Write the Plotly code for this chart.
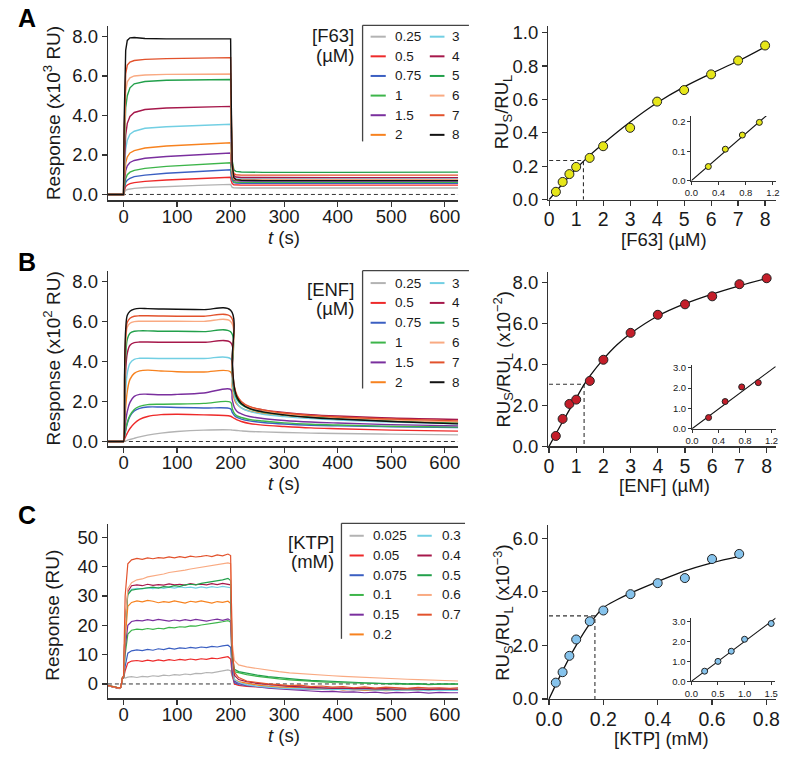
import plotly.graph_objects as go

W, H = 787, 763
FONT = "Liberation Sans, Arial, sans-serif"

# ---------------- Data: sensorgrams ----------------
COLORS = ["#b3b3b3", "#ee2a2a", "#3b5fc2", "#3db54a", "#7a2f9e", "#f7821f",
          "#72cfe3", "#a6184b", "#22a04b", "#f9aa82", "#e2522c", "#111111"]

A_labels = ["0.25", "0.5", "0.75", "1", "1.5", "2", "3", "4", "5", "6", "7", "8"]
T_A = [-30, -1, 0, 1, 2, 4, 7, 12, 20, 40, 80, 140, 200, 201, 203, 206, 210, 220, 260, 400, 625]
A_025 = [0, 0, 0, 0.08, 0.15, 0.21, 0.25, 0.28, 0.31, 0.35, 0.40, 0.46, 0.51, 0.42, 0.36, 0.34, 0.33, 0.33, 0.33, 0.33, 0.33]
A_05 = [0, 0, 0, 0.15, 0.28, 0.40, 0.48, 0.55, 0.60, 0.66, 0.73, 0.80, 0.87, 0.70, 0.55, 0.49, 0.48, 0.47, 0.47, 0.47, 0.47]
A_075 = [0, 0, 0, 0.22, 0.42, 0.60, 0.72, 0.82, 0.90, 0.98, 1.07, 1.17, 1.25, 0.95, 0.72, 0.60, 0.58, 0.57, 0.57, 0.57, 0.57]
A_1 = [0, 0, 0, 0.30, 0.55, 0.80, 1.00, 1.13, 1.22, 1.32, 1.42, 1.52, 1.60, 1.20, 0.80, 0.64, 0.62, 0.61, 0.61, 0.61, 0.61]
A_15 = [0, 0, 0, 0.45, 0.85, 1.20, 1.45, 1.62, 1.72, 1.83, 1.92, 2.02, 2.10, 1.50, 0.90, 0.72, 0.69, 0.68, 0.68, 0.68, 0.68]
A_2 = [0, 0, 0, 0.60, 1.10, 1.60, 1.90, 2.10, 2.22, 2.35, 2.45, 2.55, 2.62, 1.80, 1.00, 0.78, 0.74, 0.72, 0.72, 0.72, 0.72]
A_3 = [0, 0, 0, 0.90, 1.60, 2.30, 2.75, 3.05, 3.20, 3.35, 3.43, 3.50, 3.55, 2.40, 1.20, 0.85, 0.80, 0.78, 0.78, 0.78, 0.78]
A_4 = [0, 0, 0, 1.20, 2.20, 3.00, 3.60, 3.95, 4.15, 4.30, 4.38, 4.42, 4.46, 3.00, 1.40, 0.95, 0.88, 0.86, 0.85, 0.85, 0.85]
A_5 = [0, 0, 0, 1.80, 3.20, 4.40, 5.00, 5.40, 5.60, 5.72, 5.78, 5.80, 5.82, 3.80, 1.70, 1.25, 1.17, 1.14, 1.12, 1.12, 1.13]
A_6 = [0, 0, 0, 2.20, 3.90, 5.20, 5.70, 5.90, 6.00, 6.05, 6.08, 6.09, 6.10, 4.00, 1.30, 0.80, 0.76, 0.75, 0.75, 0.75, 0.75]
A_7 = [0, 0, 0, 2.80, 4.80, 6.10, 6.55, 6.70, 6.78, 6.84, 6.88, 6.91, 6.93, 4.50, 1.60, 1.05, 1.00, 0.98, 0.98, 0.98, 0.98]
A_8 = [0, 0, 0, 3.50, 5.80, 7.30, 7.80, 7.93, 7.95, 7.90, 7.88, 7.88, 7.88, 5.00, 1.50, 0.85, 0.75, 0.72, 0.70, 0.70, 0.70]

B_labels = A_labels
T_B = [-30, -1, 0, 2, 4, 7, 12, 20, 30, 45, 70, 100, 150, 200, 203, 207, 212, 220, 235, 260, 300, 350, 400, 500, 625]
B_025 = [0, 0, 0, 0.01, 0.03, 0.06, 0.10, 0.16, 0.23, 0.32, 0.42, 0.50, 0.57, 0.58, 0.57, 0.56, 0.55, 0.53, 0.50, 0.48, 0.45, 0.42, 0.40, 0.37, 0.33]
B_05 = [0, 0, 0, 0.12, 0.25, 0.42, 0.65, 0.90, 1.10, 1.25, 1.34, 1.36, 1.33, 1.26, 1.22, 1.15, 1.08, 1.00, 0.90, 0.82, 0.75, 0.68, 0.64, 0.57, 0.52]
B_075 = [0, 0, 0, 0.28, 0.55, 0.90, 1.25, 1.52, 1.65, 1.72, 1.72, 1.70, 1.67, 1.63, 1.45, 1.30, 1.20, 1.12, 1.03, 0.95, 0.87, 0.81, 0.78, 0.74, 0.70]
B_1 = [0, 0, 0, 0.30, 0.60, 0.95, 1.30, 1.60, 1.75, 1.84, 1.86, 1.87, 1.90, 1.96, 1.65, 1.40, 1.28, 1.20, 1.10, 1.02, 0.93, 0.86, 0.82, 0.76, 0.72]
B_15 = [0, 0, 0, 0.50, 1.00, 1.50, 1.95, 2.25, 2.35, 2.36, 2.33, 2.35, 2.42, 2.60, 2.10, 1.70, 1.50, 1.38, 1.25, 1.15, 1.05, 0.97, 0.92, 0.84, 0.78]
B_2 = [0, 0, 0, 0.90, 1.70, 2.50, 3.10, 3.40, 3.52, 3.56, 3.52, 3.48, 3.47, 3.47, 2.70, 2.10, 1.85, 1.68, 1.52, 1.40, 1.28, 1.18, 1.10, 1.00, 0.94]
B_3 = [0, 0, 0, 1.40, 2.50, 3.40, 3.90, 4.10, 4.15, 4.15, 4.14, 4.14, 4.14, 4.13, 3.00, 2.25, 1.90, 1.68, 1.50, 1.36, 1.24, 1.14, 1.07, 0.97, 0.88]
B_4 = [0, 0, 0, 2.00, 3.50, 4.40, 4.80, 4.93, 4.96, 4.96, 4.95, 4.95, 4.95, 4.94, 3.40, 2.50, 2.15, 1.92, 1.72, 1.58, 1.45, 1.34, 1.27, 1.17, 1.10]
B_5 = [0, 0, 0, 2.50, 4.20, 5.10, 5.40, 5.50, 5.52, 5.52, 5.50, 5.50, 5.48, 5.47, 3.50, 2.50, 2.10, 1.85, 1.63, 1.47, 1.33, 1.22, 1.14, 1.02, 0.92]
B_6 = [0, 0, 0, 3.00, 4.90, 5.70, 5.90, 5.98, 6.00, 6.00, 6.00, 6.00, 5.99, 5.99, 3.80, 2.70, 2.25, 1.95, 1.72, 1.55, 1.40, 1.28, 1.20, 1.08, 0.98]
B_7 = [0, 0, 0, 3.20, 5.20, 5.95, 6.15, 6.25, 6.27, 6.27, 6.26, 6.25, 6.25, 6.24, 3.90, 2.75, 2.30, 2.00, 1.75, 1.58, 1.42, 1.30, 1.22, 1.12, 1.03]
B_8 = [0, 0, 0, 3.50, 5.60, 6.30, 6.50, 6.60, 6.64, 6.63, 6.61, 6.60, 6.58, 6.55, 4.00, 2.70, 2.20, 1.90, 1.65, 1.48, 1.33, 1.20, 1.12, 1.00, 0.88]

C_labels = ["0.025", "0.05", "0.075", "0.1", "0.15", "0.2", "0.3", "0.4", "0.5", "0.6", "0.7"]
C_COLORS = ["#b3b3b3", "#ee2a2a", "#3b5fc2", "#3db54a", "#7a2f9e", "#f7821f",
            "#72cfe3", "#a6184b", "#22a04b", "#f9aa82", "#e2522c"]
T_C = [-30, -15, -8, -5, -2, 0,
       3, 8, 15, 25, 35, 45, 55, 65, 75, 85, 95, 105, 115, 125, 135, 145, 155, 165, 175, 185, 195, 200,
       203, 207, 215, 230, 250, 270, 290, 310, 330, 350, 370, 390, 410, 430, 450, 470, 490, 510, 530, 550, 570, 590, 610, 625]
C_0025 = [-0.5, -1.0, -1.4, -1.0, 2.2, 2.3,
          2.0, 2.3, 2.5, 2.2, 2.6, 2.4, 2.8, 2.6, 3.0, 2.8, 3.2, 3.0, 3.4, 3.2, 3.6, 3.5, 3.9, 3.8, 4.2, 4.4, 4.8, 4.5,
          2.5, 0.8, 0.3, 0.0, -0.3, -0.5, -0.7, -0.9, -1.0, -1.1, -1.2, -1.3, -1.2, -1.4, -1.3, -1.5, -1.4, -1.5, -1.6, -1.4, -1.5, -1.5, -1.6, -1.5]
C_005 = [-0.6, -1.1, -1.5, -1.2, 1.8, 2.0,
         4.5, 7.2, 7.8, 8.0, 7.7, 8.1, 7.8, 8.2, 7.9, 8.3, 8.0, 8.4, 8.1, 8.5, 8.2, 8.6, 8.4, 8.8, 8.6, 9.0, 9.3, 8.5,
         3.0, 0.0, -0.5, -0.8, -1.0, -1.3, -1.4, -1.6, -1.5, -1.8, -1.7, -1.9, -1.8, -2.0, -1.9, -2.1, -2.0, -2.2, -2.0, -2.1, -2.2, -2.0, -2.1, -2.1]
C_0075 = [-0.5, -1.2, -1.4, -1.1, 1.9, 2.2,
          6.0, 10.5, 11.3, 11.6, 11.4, 11.8, 11.5, 12.0, 11.7, 12.2, 11.9, 12.3, 12.1, 12.5, 12.2, 12.6, 12.4, 12.8, 12.6, 13.0, 13.2, 12.5,
          4.0, 0.5, -0.2, -0.6, -0.9, -1.2, -1.4, -1.5, -1.7, -1.6, -1.8, -1.7, -1.9, -1.8, -2.0, -1.9, -2.1, -1.9, -2.0, -2.1, -1.9, -2.0, -2.0, -2.0]
C_01 = [-0.6, -1.1, -1.5, -1.2, 2.0, 2.4,
        10.0, 17.0, 18.3, 18.7, 18.5, 18.9, 18.6, 19.0, 18.8, 19.3, 19.1, 19.5, 19.4, 19.8, 19.7, 20.1, 20.3, 20.5, 20.9, 21.2, 21.6, 21.0,
        8.0, 4.2, 3.8, 3.2, 2.6, 2.1, 1.7, 1.4, 1.1, 0.9, 0.7, 0.5, 0.4, 0.3, 0.2, 0.1, 0.0, 0.1, -0.1, 0.0, -0.2, -0.1, -0.2, -0.1]
C_015 = [-0.5, -1.2, -1.6, -1.1, 2.1, 2.5,
         12.0, 20.0, 21.3, 21.7, 21.5, 21.9, 21.6, 22.0, 21.7, 21.4, 21.8, 21.5, 21.9, 21.6, 22.0, 21.7, 21.4, 21.8, 22.1, 21.7, 22.2, 21.6,
         6.0, 1.0, 0.3, -0.5, -1.0, -1.4, -1.7, -2.0, -2.2, -2.4, -2.6, -2.5, -2.8, -2.7, -3.0, -2.8, -3.1, -2.9, -3.0, -2.8, -3.1, -2.9, -3.0, -3.0]
C_02 = [-0.6, -1.0, -1.5, -1.2, 2.0, 2.3,
        15.0, 26.5, 27.8, 28.3, 28.0, 28.5, 28.2, 27.7, 28.1, 27.8, 28.3, 28.0, 27.6, 28.2, 27.9, 28.3, 28.0, 27.6, 28.1, 27.8, 28.2, 27.5,
        8.0, 1.5, 0.8, 0.2, -0.4, -0.8, -1.0, -1.3, -1.2, -1.6, -1.8, -1.6, -2.0, -1.8, -2.2, -2.0, -2.3, -2.1, -2.0, -2.2, -1.9, -2.1, -2.0, -2.1]
C_03 = [-0.5, -1.1, -1.4, -1.0, 2.0, 2.5,
        20.0, 31.0, 32.3, 32.6, 32.4, 32.8, 32.5, 32.9, 32.6, 33.0, 32.7, 33.1, 32.8, 33.0, 32.7, 33.1, 32.8, 33.2, 32.9, 33.3, 33.1, 32.8,
        9.0, 1.5, 0.5, -0.3, -0.8, -1.2, -1.4, -1.6, -1.5, -1.8, -1.7, -1.9, -1.8, -2.0, -1.9, -2.1, -2.0, -2.2, -2.0, -2.1, -2.3, -2.1, -2.2, -2.2]
C_04 = [-0.6, -1.2, -1.5, -1.1, 2.1, 2.4,
        20.0, 31.5, 33.5, 33.8, 33.5, 34.0, 33.6, 33.9, 33.7, 34.1, 33.8, 34.0, 33.7, 34.2, 33.9, 34.0, 33.8, 34.2, 33.9, 34.3, 34.0, 33.8,
        10.0, 3.0, 1.5, 0.8, 0.2, -0.2, -0.5, -0.8, -1.0, -1.2, -1.3, -1.5, -1.4, -1.6, -1.5, -1.7, -1.6, -1.8, -1.6, -1.7, -1.9, -1.7, -1.8, -1.8]
C_05 = [-0.5, -1.0, -1.4, -1.0, 2.0, 2.4,
        20.0, 30.5, 32.0, 32.3, 32.5, 32.8, 33.0, 32.7, 33.2, 33.0, 33.5, 33.3, 33.8, 34.0, 33.8, 34.3, 34.6, 34.8, 35.2, 35.5, 36.0, 35.3,
        10.0, 5.0, 4.2, 3.6, 3.0, 2.5, 2.1, 1.8, 1.5, 1.2, 1.0, 0.8, 0.6, 0.5, 0.4, 0.3, 0.1, 0.2, 0.0, 0.1, -0.1, 0.0, -0.1, 0.0]
C_06 = [-0.6, -1.1, -1.5, -1.2, 2.2, 2.6,
        20.0, 32.5, 34.5, 35.5, 35.8, 36.5, 36.8, 37.3, 37.5, 38.0, 38.2, 38.6, 38.8, 39.2, 39.5, 39.7, 40.1, 40.3, 40.7, 41.0, 41.3, 41.0,
        14.0, 8.0, 6.5, 5.8, 5.2, 4.6, 4.2, 3.8, 3.5, 3.2, 3.0, 2.8, 2.6, 2.4, 2.2, 2.0, 1.9, 1.8, 1.6, 1.5, 1.3, 1.2, 1.1, 1.0]
C_07 = [-0.5, -1.2, -1.4, -1.0, 2.3, 2.7,
        30.0, 41.0, 42.3, 42.8, 42.5, 43.0, 42.7, 43.1, 42.9, 43.3, 43.0, 43.4, 43.1, 43.6, 43.3, 43.5, 43.8, 43.4, 44.0, 43.7, 44.3, 43.8,
        12.0, 4.0, 2.2, 1.0, 0.4, 0.0, -0.2, -0.6, -0.4, -0.9, -0.7, -1.1, -0.9, -1.3, -1.0, -1.4, -1.1, -1.3, -1.5, -1.2, -1.4, -1.3, -1.5, -1.3]

# ---------------- Data: binding isotherms ----------------
F63_x = [0.25, 0.5, 0.75, 1, 1.5, 2, 3, 4, 5, 6, 7, 8]
F63_y = [0.047, 0.106, 0.153, 0.196, 0.25, 0.32, 0.43, 0.587, 0.656, 0.75, 0.833, 0.923]
F63_fit_x = [0, 0.5, 1, 1.5, 2, 3, 4, 5, 6, 7, 8]
F63_fit_y = [0, 0.095, 0.185, 0.265, 0.335, 0.465, 0.58, 0.675, 0.755, 0.83, 0.915]
F63_kd = [1.27, 0.234]
F63_in_x = [0.25, 0.5, 0.75, 1.0]
F63_in_y = [0.048, 0.107, 0.155, 0.198]
F63_in_fit_x = [0, 1.11]
F63_in_fit_y = [0, 0.222]

ENF_x = [0.25, 0.5, 0.75, 1, 1.5, 2, 3, 4, 5, 6, 7, 8]
ENF_y = [0.51, 1.34, 2.07, 2.28, 3.19, 4.22, 5.53, 6.41, 6.92, 7.31, 7.90, 8.19]
ENF_fit_x = [0, 0.5, 1, 1.3, 1.5, 2, 2.5, 3, 4, 5, 6, 7, 8]
ENF_fit_y = [0, 1.2, 2.35, 3.03, 3.42, 4.25, 4.95, 5.5, 6.35, 6.95, 7.42, 7.82, 8.18]
ENF_kd = [1.29, 3.03]
ENF_in_x = [0.25, 0.5, 0.75, 1.0]
ENF_in_y = [0.55, 1.34, 2.06, 2.27]
ENF_in_fit_x = [0, 1.26]
ENF_in_fit_y = [0, 3.06]

KTP_x = [0.025, 0.05, 0.075, 0.1, 0.15, 0.2, 0.3, 0.4, 0.5, 0.6, 0.7]
KTP_y = [0.61, 1.0, 1.61, 2.22, 2.90, 3.30, 3.91, 4.32, 4.51, 5.22, 5.41]
KTP_fit_x = [0, 0.05, 0.1, 0.15, 0.2, 0.25, 0.3, 0.4, 0.5, 0.6, 0.7]
KTP_fit_y = [0, 1.05, 2.0, 2.8, 3.4, 3.7, 3.95, 4.38, 4.78, 5.08, 5.32]
KTP_kd = [0.169, 3.10]
KTP_in_x = [0.25, 0.5, 0.75, 1.0, 1.5]
KTP_in_y = [0.51, 1.0, 1.51, 2.11, 2.9]
KTP_in_fit_x = [0, 1.6]
KTP_in_fit_y = [0, 3.2]

# ---------------- helpers ----------------
def px(x):
    return x / W

def py(y):
    return 1 - y / H

AX = "#333333"
TXT = "#1a1a1a"

def axis(dom, rng, tv, tt, size=18.5, tlen=5, anchor=None, lw=1.2, standoff=0):
    d = dict(domain=dom, range=rng, tickvals=tv, ticktext=tt, showline=True, linecolor=AX,
             linewidth=lw, ticks="outside", ticklen=tlen, tickwidth=lw, tickcolor=AX,
             tickfont=dict(family=FONT, size=size, color=TXT), showgrid=False, zeroline=False,
             fixedrange=True, ticklabeloverflow="allow", ticklabelstandoff=standoff)
    if anchor:
        d["anchor"] = anchor
    return d

fig = go.Figure()

LX = [px(97), px(455)]
RX = [px(547), px(780)]
tx_vals = [0, 100, 200, 300, 400, 500, 600]
tx_text = [str(v) for v in tx_vals]
XS_L = -6   # pull x tick labels toward the axis
XS_R = -3
IN = dict(size=9.5, tlen=3, lw=1)

layout = dict(
    width=W, height=H, margin=dict(l=0, r=0, t=0, b=0), paper_bgcolor="white", plot_bgcolor="rgba(0,0,0,0)",
    showlegend=False, font=dict(family=FONT, color=TXT),
    xaxis=axis(LX, [-29.2, 625], tx_vals, tx_text, anchor="y", standoff=XS_L),
    yaxis=axis([py(200), py(22)], [-0.298, 8.55], [0, 2, 4, 6, 8], ["0.0", "2.0", "4.0", "6.0", "8.0"], anchor="x"),
    xaxis2=axis(RX, [-0.036, 8.41], list(range(9)), [str(v) for v in range(9)], size=19.5, anchor="y2", standoff=XS_R),
    yaxis2=axis([py(199.3), py(22.7)], [0, 1.038], [0, 0.2, 0.4, 0.6, 0.8, 1.0], ["0.0", "0.2", "0.4", "0.6", "0.8", "1.0"], anchor="x2"),
    xaxis3=axis([px(693.3), px(780)], [0, 1.247], [0, 0.4, 0.8, 1.2], ["0.0", "0.4", "0.8", "1.2"], anchor="y3", **IN),
    yaxis3=axis([py(180), py(114)], [0, 0.22], [0, 0.1, 0.2], ["0.0", "0.1", "0.2"], anchor="x3", **IN),
    xaxis4=axis(LX, [-29.2, 625], tx_vals, tx_text, anchor="y4", standoff=XS_L),
    yaxis4=axis([py(450.7), py(272.3)], [-0.245, 8.49], [0, 2, 4, 6, 8], ["0.0", "2.0", "4.0", "6.0", "8.0"], anchor="x4"),
    xaxis5=axis(RX, [-0.03, 8.35], list(range(9)), [str(v) for v in range(9)], size=19.5, anchor="y5", standoff=XS_R),
    yaxis5=axis([py(450.7), py(273.3)], [0, 8.48], [0, 2, 4, 6, 8], ["0.0", "2.0", "4.0", "6.0", "8.0"], anchor="x5"),
    xaxis6=axis([px(694), px(780)], [0, 1.27], [0, 0.4, 0.8, 1.2], ["0.0", "0.4", "0.8", "1.2"], anchor="y6", **IN),
    yaxis6=axis([py(432.7), py(367.3)], [0, 3.16], [0, 1, 2, 3], ["0.0", "1.0", "2.0", "3.0"], anchor="x6", **IN),
    xaxis7=axis(LX, [-29.2, 625], tx_vals, tx_text, anchor="y7", standoff=XS_L),
    yaxis7=axis([py(707.3), py(530)], [-4.9, 54.45], [0, 10, 20, 30, 40, 50], ["0", "10", "20", "30", "40", "50"], anchor="x7"),
    xaxis8=axis(RX, [-0.003, 0.836], [0, 0.2, 0.4, 0.6, 0.8], ["0.0", "0.2", "0.4", "0.6", "0.8"], size=19.5, anchor="y8", standoff=XS_R),
    yaxis8=axis([py(708), py(530.7)], [0, 6.49], [0, 2, 4, 6], ["0.0", "2.0", "4.0", "6.0"], anchor="x8"),
    xaxis9=axis([px(693.3), px(779.3)], [0, 1.58], [0, 0.5, 1.0, 1.5], ["0.0", "0.5", "1.0", "1.5"], anchor="y9", **IN),
    yaxis9=axis([py(690), py(625)], [0, 3.2], [0, 1, 2, 3], ["0.0", "1.0", "2.0", "3.0"], anchor="x9", **IN),
)

def line(xs, ys, xa, ya, color, width=1.4, dash=None, shape="linear"):
    fig.add_trace(go.Scatter(x=xs, y=ys, mode="lines", xaxis=xa, yaxis=ya, hoverinfo="skip",
                             line=dict(color=color, width=width, dash=dash, shape=shape)))

def pts(xs, ys, xa, ya, color, size):
    fig.add_trace(go.Scatter(x=xs, y=ys, mode="markers", xaxis=xa, yaxis=ya, hoverinfo="skip",
                             marker=dict(color=color, size=size, line=dict(color="#222222", width=1))))

# --- sensorgrams ---
DASH0 = "4px,3px"
line([-29.2, 625], [0, 0], "x", "y", "#333333", 1, DASH0)
line([-29.2, 625], [0, 0], "x4", "y4", "#333333", 1, DASH0)
line([-29.2, 625], [0, 0], "x7", "y7", "#333333", 1, DASH0)

A_series = [A_025, A_05, A_075, A_1, A_15, A_2, A_3, A_4, A_5, A_6, A_7, A_8]
for vals, c in zip(A_series, COLORS):
    line(T_A, vals, "x", "y", c, 1.4)
B_series = [B_025, B_05, B_075, B_1, B_15, B_2, B_3, B_4, B_5, B_6, B_7, B_8]
for vals, c in zip(B_series, COLORS):
    line(T_B, vals, "x4", "y4", c, 1.4, shape="spline")
C_series = [C_0025, C_005, C_0075, C_01, C_015, C_02, C_03, C_04, C_05, C_06, C_07]
for vals, c in zip(C_series, C_COLORS):
    line(T_C, vals, "x7", "y7", c, 1.2)

# --- isotherms ---
def isotherm(xa, ya, fx, fy, kd, dx, dy, fill, xi, yi, fxi, fyi, ixa, iya):
    line([0, kd[0], kd[0]], [kd[1], kd[1], 0], xa, ya, "#333333", 1.1, "4px,3px")
    line(fx, fy, xa, ya, "#111111", 1.3, shape="spline")
    pts(dx, dy, xa, ya, fill, 9)
    line(fxi, fyi, ixa, iya, "#111111", 1.1)
    pts(xi, yi, ixa, iya, fill, 6)

isotherm("x2", "y2", F63_fit_x, F63_fit_y, F63_kd, F63_x, F63_y, "#e6e619",
         F63_in_x, F63_in_y, F63_in_fit_x, F63_in_fit_y, "x3", "y3")
isotherm("x5", "y5", ENF_fit_x, ENF_fit_y, ENF_kd, ENF_x, ENF_y, "#c41e2a",
         ENF_in_x, ENF_in_y, ENF_in_fit_x, ENF_in_fit_y, "x6", "y6")
isotherm("x8", "y8", KTP_fit_x, KTP_fit_y, KTP_kd, KTP_x, KTP_y, "#86c3ec",
         KTP_in_x, KTP_in_y, KTP_in_fit_x, KTP_in_fit_y, "x9", "y9")

# --- annotations & legend shapes ---
ann = []
shapes = []

def text(x, y, s, size=18, xanchor="center", angle=0, bold=False):
    ann.append(dict(x=px(x), y=py(y), xref="paper", yref="paper", text=("<b>%s</b>" % s) if bold else s,
                    showarrow=False, xanchor=xanchor, yanchor="middle", textangle=angle,
                    font=dict(family=FONT, size=size, color="#000000" if bold else TXT)))

def seg(x0, y0, x1, y1, color, width):
    shapes.append(dict(type="line", xref="paper", yref="paper", x0=px(x0), y0=py(y0), x1=px(x1), y1=py(y1),
                       line=dict(color=color, width=width)))

text(14, 14, "A", 25, bold=True)
text(14, 263, "B", 25, bold=True)
text(14, 521, "C", 25, bold=True)

text(40, 111, "Response (x10<sup>3</sup> RU)", 19, angle=-90)
text(40, 361, "Response (x10<sup>2</sup> RU)", 19, angle=-90)
text(40, 623, "Response (RU)", 19, angle=-90)
for yy in (238, 488, 745):
    text(277, yy, "<i>t</i> (s)", 18.5)

text(501, 110, "RU<sub>S</sub>/RU<sub>L</sub>", 18.5, angle=-90)
text(501, 362, "RU<sub>S</sub>/RU<sub>L</sub> (x10<sup>−2</sup>)", 18.5, angle=-90)
text(501, 620, "RU<sub>S</sub>/RU<sub>L</sub> (x10<sup>−3</sup>)", 18.5, angle=-90)
text(665, 240, "[F63] (µM)", 18.5)
text(666, 491, "[ENF] (µM)", 18.5)
text(663, 748, "[KTP] (mM)", 18.5)

def legend(title1, title2, tx, ty1, ty2, box_x, box_top, box_bot, box_right, rows_y, labels, colors,
           c1, c2, rowstep):
    text(tx, ty1, title1, 18.5, xanchor="right")
    text(tx, ty2, title2, 18.5, xanchor="right")
    seg(box_x, box_top, box_x, box_bot, "#444444", 1.3)
    seg(box_x, box_top, box_right, box_top, "#444444", 1.3)
    for i, (lab, col) in enumerate(zip(labels, colors)):
        colx = c1 if i < 6 else c2
        yy = rows_y + rowstep * (i % 6)
        seg(colx[0], yy, colx[1], yy, col, 2)
        text(colx[2], yy, lab, 13.5, xanchor="left")

legend("[F63]", "(µM)", 351, 32.5, 52.5, 357.3, 21.7, 140, 466, 33.3, A_labels, COLORS,
       (365.5, 381, 388), (426, 441, 447), 20)
legend("[ENF]", "(µM)", 351, 291, 310, 357.3, 271.7, 391.7, 466, 284.3, B_labels, COLORS,
       (365.5, 381, 388), (426, 441, 447), 20.2)
legend("[KTP]", "(mM)", 330, 549, 568, 335.7, 529, 646.7, 462, 541.7, C_labels, C_COLORS,
       (344, 358.5, 366), (413.3, 428, 436), 20.1)

layout["annotations"] = ann
layout["shapes"] = shapes
fig.update_layout(**layout)
fig.write_html("out.html", config={"displayModeBar": False, "staticPlot": True})

# remove the browser's default page margin so the figure sits at the window origin
with open("out.html", "r", encoding="utf-8") as f:
    html = f.read()
html = html.replace("<head>", "<head><style>html,body{margin:0;padding:0;overflow:hidden;}</style>", 1)
with open("out.html", "w", encoding="utf-8") as f:
    f.write(html)
